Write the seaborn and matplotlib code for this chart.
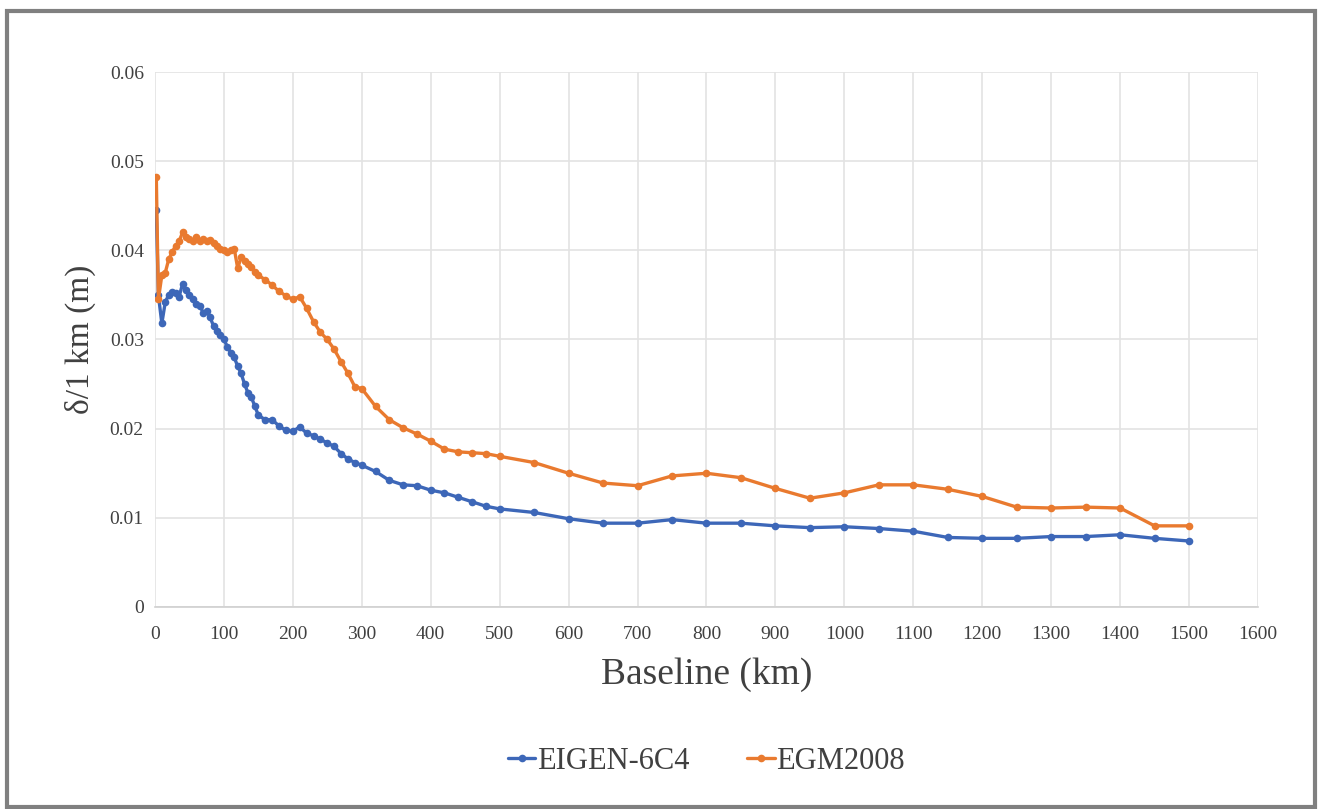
import numpy as np
import pandas as pd
import matplotlib
matplotlib.use("Agg")
import matplotlib.pyplot as plt
import seaborn as sns
from matplotlib.patches import Rectangle

# ---- data ----
baseline_km = [2, 5, 10, 15, 20, 25, 30, 35, 40, 45, 50, 55, 60, 65, 70, 75, 80, 85, 90, 95,
               100, 105, 110, 115, 120, 125, 130, 135, 140, 145, 150,
               160, 170, 180, 190, 200, 210, 220, 230, 240, 250, 260, 270, 280, 290, 300,
               320, 340, 360, 380, 400, 420, 440, 460, 480, 500,
               550, 600, 650, 700, 750, 800, 850, 900, 950, 1000, 1050, 1100, 1150, 1200,
               1250, 1300, 1350, 1400, 1450, 1500]

eigen_6c4 = [0.0445, 0.0350, 0.0318, 0.0342, 0.0350, 0.0353, 0.0352, 0.0348, 0.0362, 0.0355,
             0.0350, 0.0345, 0.0340, 0.0338, 0.0330, 0.0332, 0.0325, 0.0315, 0.0310, 0.0305,
             0.0300, 0.0292, 0.0285, 0.0280, 0.0270, 0.0262, 0.0250, 0.0240, 0.0235, 0.0225, 0.0215,
             0.0210, 0.0210, 0.0203, 0.0198, 0.0197, 0.0202, 0.0195, 0.0192, 0.0188, 0.0184,
             0.0180, 0.0172, 0.0166, 0.0162, 0.0159,
             0.0152, 0.0142, 0.0137, 0.0136, 0.0131, 0.0128, 0.0123, 0.0118, 0.0113, 0.0110,
             0.0106, 0.0099, 0.0094, 0.0094, 0.0098, 0.0094, 0.0094, 0.0091, 0.0089, 0.0090,
             0.0088, 0.0085, 0.0078, 0.0077, 0.0077, 0.0079, 0.0079, 0.0081, 0.0077, 0.0074]

egm2008 = [0.0482, 0.0345, 0.0372, 0.0375, 0.0390, 0.0398, 0.0405, 0.0410, 0.0420, 0.0415,
           0.0413, 0.0410, 0.0415, 0.0411, 0.0413, 0.0410, 0.0412, 0.0408, 0.0405, 0.0402,
           0.0400, 0.0398, 0.0400, 0.0402, 0.0380, 0.0392, 0.0388, 0.0385, 0.0381, 0.0376, 0.0372,
           0.0367, 0.0361, 0.0354, 0.0349, 0.0345, 0.0348, 0.0335, 0.0320, 0.0308, 0.0300,
           0.0289, 0.0275, 0.0262, 0.0247, 0.0245,
           0.0225, 0.0210, 0.0201, 0.0194, 0.0186, 0.0177, 0.0174, 0.0173, 0.0172, 0.0169,
           0.0162, 0.0150, 0.0139, 0.0136, 0.0147, 0.0150, 0.0145, 0.0133, 0.0122, 0.0128,
           0.0137, 0.0137, 0.0132, 0.0124, 0.0112, 0.0111, 0.0112, 0.0111, 0.0091, 0.0091]

series_names = ["EIGEN-6C4", "EGM2008"]
x_ticks = list(range(0, 1700, 100))
y_ticks = [0, 0.01, 0.02, 0.03, 0.04, 0.05, 0.06]
y_tick_labels = ["0", "0.01", "0.02", "0.03", "0.04", "0.05", "0.06"]

df = pd.DataFrame({
    "Baseline": baseline_km * 2,
    "value": eigen_6c4 + egm2008,
    "model": [series_names[0]] * len(baseline_km) + [series_names[1]] * len(baseline_km),
})

# ---- style ----
sns.set_theme(style="white")
plt.rcParams["font.family"] = ["Liberation Serif", "DejaVu Serif"]

fig = plt.figure(figsize=(13.22, 8.09), dpi=100)
ax = fig.add_axes([0.1172, 0.2497, 0.8344, 0.6613])

palette = {"EIGEN-6C4": "#3D67B8", "EGM2008": "#E97A2F"}
sns.lineplot(data=df, x="Baseline", y="value", hue="model", palette=palette,
             style="model", markers={"EIGEN-6C4": "o", "EGM2008": "o"},
             dashes=False, linewidth=2.4, markersize=5.5, markeredgewidth=0,
             sort=False, ax=ax)

ax.set_xlim(0, 1600)
ax.set_ylim(0, 0.06)
ax.set_xticks(x_ticks)
ax.set_xticklabels([str(t) for t in x_ticks])
ax.set_yticks(y_ticks)
ax.set_yticklabels(y_tick_labels)
ax.grid(True, color="#e3e3e3", linewidth=1.2)
ax.set_axisbelow(True)
for s in ["top", "right", "left"]:
    ax.spines[s].set_visible(False)
ax.spines["bottom"].set_color("#d0d0d0")
ax.spines["bottom"].set_linewidth(1.2)
ax.tick_params(axis="x", length=4, color="#d0d0d0", labelsize=14, labelcolor="#404040", pad=10)
ax.tick_params(axis="y", length=0, labelsize=14, labelcolor="#404040", pad=8)

ax.set_xlabel("Baseline (km)", fontsize=27, color="#404040", labelpad=10)
ax.set_ylabel("δ/1 km (m)", fontsize=24, color="#404040", labelpad=10)

leg = ax.legend(loc="upper center", bbox_to_anchor=(0.5, -0.21), ncol=2, frameon=False,
                fontsize=22, handlelength=0.9, handletextpad=0.05, columnspacing=1.9,
                labelcolor="#404040")

# outer frame of the chart
fig.patches.append(Rectangle((0.005, 0.003), 0.99, 0.984, transform=fig.transFigure,
                             fill=False, edgecolor="#808080", linewidth=3))

fig.savefig("out.png", dpi=100, facecolor="white")
